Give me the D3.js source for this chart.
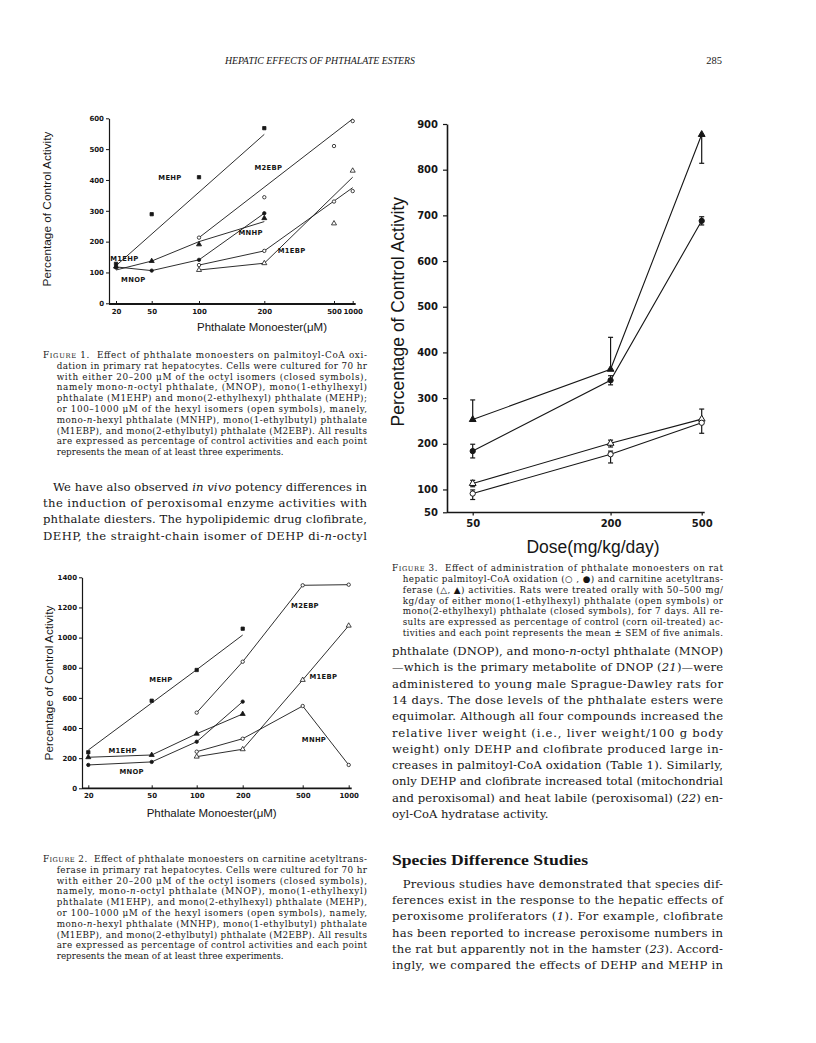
<!DOCTYPE html>
<html><head><meta charset="utf-8">
<script src="https://cdn.jsdelivr.net/npm/d3@7/dist/d3.min.js"></script>
<style>
html,body{margin:0;padding:0;background:#fff;}
svg text{white-space:pre;}
</style></head>
<body><svg id="page" width="816" height="1043" xmlns="http://www.w3.org/2000/svg"></svg>
<script>
// ---------------- DATA ----------------
// Figure 1: palmitoyl-CoA oxidation, % of control
const f1Doses = [20, 50, 100, 200, 500, 1000];
const f1YTicks = [0, 100, 200, 300, 400, 500, 600];
const octylDoses = [20, 50, 100, 200];
const hexylDoses = [100, 200, 500, 1000];
const f1MEHP = [128, 289, 409, 568];
const f1M1EHP = [119, 137, 191, 276];
const f1MNOP = [116, 106, 141, 292];
const f1M2EBP = [213, 344, 510, 591];
const f1MNHP = [124, 170, 330, 364];
const f1M1EBP = [108, 130, 259, 430];
// drawn (fitted) lines of Figure 1
const f1MEHPLineDoses = [20, 200];
const f1MEHPLine = [122, 548];
const f1M1EHPLine = [108, 137, 200, 265];
const f1MNOPLine = [118, 106, 141, 292];
const f1M2EBPLineDoses = [100, 1000];
const f1M2EBPLine = [213, 598];
const f1HexLineDoses = [100, 200, 1000];
const f1MNHPLine = [124, 170, 375];
const f1M1EBPLine = [108, 130, 409];

// Figure 2: carnitine acetyltransferase, % of control
const f2Doses = [20, 50, 100, 200, 500, 1000];
const f2YTicks = [0, 200, 400, 600, 800, 1000, 1200, 1400];
const f2MEHP = [239, 581, 785, 1059];
const f2MEHPLine = [254, 566, 787, 1017];
const f2M1EHP = [206, 221, 362, 493];
const f2MNOP = [155, 175, 309, 575];
const f2M2EBP = [502, 840, 1347, 1351];
const f2MNHP = [243, 329, 546, 155];
const f2M1EBP = [210, 259, 719, 1079];

// Figure 3: in vivo, mean ± SEM
const f3Doses = [50, 200, 500];
const f3YTicks = [50, 100, 200, 300, 400, 500, 600, 700, 800, 900];
const f3CatMEHP = [253, 363, 877];     // closed triangles
const f3CatMEHPUp = [43, 70, 0];
const f3CatMEHPDown = [0, 0, 63];
const f3PcoMEHP = [184, 339, 688];     // closed circles
const f3PcoMEHPUp = [15, 10, 9];
const f3PcoMEHPDown = [15, 10, 9];
const f3CatM1EHP = [113, 201, 254];    // open triangles
const f3CatM1EHPUp = [7, 7, 22];
const f3CatM1EHPDown = [7, 8, 0];
const f3PcoM1EHP = [91, 177, 246];     // open circles
const f3PcoM1EHPUp = [8, 7, 0];
const f3PcoM1EHPDown = [13, 19, 23];

// ---------------- TEXT ----------------
const headerText = "HEPATIC EFFECTS OF PHTHALATE ESTERS";
const pageNumber = "285";
const cap1 = [
 "{FIGURE} 1.  Effect of phthalate monoesters on palmitoyl-CoA oxi-",
 "dation in primary rat hepatocytes. Cells were cultured for 70 hr",
 "with either 20–200 μM of the octyl isomers (closed symbols),",
 "namely mono-*n*-octyl phthalate, (MNOP), mono(1-ethylhexyl)",
 "phthalate (M1EHP) and mono(2-ethylhexyl) phthalate (MEHP);",
 "or 100–1000 μM of the hexyl isomers (open symbols), manely,",
 "mono-*n*-hexyl phthalate (MNHP), mono(1-ethylbutyl) phthalate",
 "(M1EBP), and mono(2-ethylbutyl) phthalate (M2EBP). All results",
 "are expressed as percentage of control activities and each point",
 "represents the mean of at least three experiments."
];
const paraLeft = [
 "We have also observed *in vivo* potency differences in",
 "the induction of peroxisomal enzyme activities with",
 "phthalate diesters. The hypolipidemic drug clofibrate,",
 "DEHP, the straight-chain isomer of DEHP di-*n*-octyl"
];
const cap2 = [
 "{FIGURE} 2.  Effect of phthalate monoesters on carnitine acetyltrans-",
 "ferase in primary rat hepatocytes. Cells were cultured for 70 hr",
 "with either 20–200 μM of the octyl isomers (closed symbols),",
 "namely, mono-*n*-octyl phthalate (MNOP), mono(1-ethylhexyl)",
 "phthalate (M1EHP), and mono(2-ethylhexyl) phthalate (MEHP),",
 "or 100–1000 μM of the hexyl isomers (open symbols), namely,",
 "mono-*n*-hexyl phthalate (MNHP), mono(1-ethylbutyl) phthalate",
 "(M1EBP), and mono(2-ethylbutyl) phthalate (M2EBP). All results",
 "are expressed as percentage of control activities and each point",
 "represents the mean of at least three experiments."
];
const cap3 = [
 "{FIGURE} 3.  Effect of administration of phthalate monoesters on rat",
 "hepatic palmitoyl-CoA oxidation (○ , ●) and carnitine acetyltrans-",
 "ferase (△, ▲) activities. Rats were treated orally with 50–500 mg/",
 "kg/day of either mono(1-ethylhexyl) phthalate (open symbols) or",
 "mono(2-ethylhexyl) phthalate (closed symbols), for 7 days. All re-",
 "sults are expressed as percentage of control (corn oil-treated) ac-",
 "tivities and each point represents the mean ± SEM of five animals."
];
const paraRight1 = [
 "phthalate (DNOP), and mono-*n*-octyl phthalate (MNOP)",
 "—which is the primary metabolite of DNOP (*21*)—were",
 "administered to young male Sprague-Dawley rats for",
 "14 days. The dose levels of the phthalate esters were",
 "equimolar. Although all four compounds increased the",
 "relative liver weight (i.e., liver weight/100 g body",
 "weight) only DEHP and clofibrate produced large in-",
 "creases in palmitoyl-CoA oxidation (Table 1). Similarly,",
 "only DEHP and clofibrate increased total (mitochondrial",
 "and peroxisomal) and heat labile (peroxisomal) (*22*) en-",
 "oyl-CoA hydratase activity."
];
const headingRight = "Species Difference Studies";
const paraRight2 = [
 "Previous studies have demonstrated that species dif-",
 "ferences exist in the response to the hepatic effects of",
 "peroxisome proliferators (*1*). For example, clofibrate",
 "has been reported to increase peroxisome numbers in",
 "the rat but apparently not in the hamster (*23*). Accord-",
 "ingly, we compared the effects of DEHP and MEHP in"
];

// ---------------- DRAWING ----------------
const svg = d3.select('#page');
const INK = '#161616';
const SERIF = "'DejaVu Serif', serif";
const TIMES = "'Liberation Serif', serif";
const SANS = "'Liberation Sans', Arial, sans-serif";
const BOLD = "'DejaVu Sans', sans-serif";
const fmt = d3.format('d');

function richLine(g, str, x, y, size, width, family) {
  const t = g.append('text').attr('x', x).attr('y', y)
    .attr('font-family', family).attr('font-size', size).attr('fill', INK);
  if (width) t.attr('textLength', width).attr('lengthAdjust', 'spacing');
  str.split(/(\*[^*]+\*|\{[^}]+\})/).forEach(p => {
    if (!p) return;
    if (p[0] === '*') t.append('tspan').attr('font-style', 'italic').text(p.slice(1, -1));
    else if (p[0] === '{') {
      const s = p.slice(1, -1);
      t.append('tspan').text(s[0]);
      t.append('tspan').attr('font-size', size * 0.76).text(s.slice(1));
    } else t.append('tspan').text(p);
  });
}
function block(lines, o) {
  const g = svg.append('g');
  lines.forEach((l, i) => {
    const x = i === 0 ? o.x0 : o.x1;
    const last = i === lines.length - 1 && !o.justifyLast;
    richLine(g, l, x, o.y + i * o.lh, o.size, last ? null : (o.right - x), o.family || SERIF);
  });
}

// header
svg.append('text').attr('x', 225).attr('y', 64).attr('font-family', TIMES).attr('font-style', 'italic')
  .attr('font-size', 10.5).attr('fill', INK).attr('textLength', 190).attr('lengthAdjust', 'spacingAndGlyphs').text(headerText);
svg.append('text').attr('x', 722).attr('y', 64).attr('text-anchor', 'end').attr('font-family', TIMES)
  .attr('font-size', 10.5).attr('fill', INK).text(pageNumber);

// captions & paragraphs
block(cap1, {x0: 43, x1: 56.7, right: 367, y: 358, lh: 10.8, size: 8.8});
block(paraLeft, {x0: 53, x1: 43, right: 367, y: 491, lh: 16.2, size: 11.6, justifyLast: true});
block(cap2, {x0: 43, x1: 56.7, right: 367, y: 862, lh: 10.8, size: 8.8});
block(cap3, {x0: 392, x1: 402.7, right: 723, y: 570.8, lh: 10.9, size: 8.8, justifyLast: true});
block(paraRight1, {x0: 392, x1: 392, right: 723, y: 655, lh: 16.3, size: 11.6});
svg.append('text').attr('x', 392).attr('y', 865).attr('font-family', TIMES).attr('font-weight', 'bold')
  .attr('font-size', 15.5).attr('fill', INK).attr('textLength', 196).attr('lengthAdjust', 'spacingAndGlyphs').text(headingRight);
block(paraRight2, {x0: 402.7, x1: 392, right: 723, y: 888, lh: 16.2, size: 11.6, justifyLast: true});

// ---- generic chart for Figs 1 & 2 ----
function drawDoseChart(c) {
  const g = svg.append('g');
  const x = d3.scaleLinear().domain(c.doses).range(c.xRange);
  const y = d3.scaleLinear().domain([0, d3.max(c.yTicks)]).range(c.yRange);
  const ya = g.append('g').attr('transform', `translate(${c.yAxisX},0)`)
    .call(d3.axisLeft(y).tickValues(c.yTicks).tickSize(3).tickSizeOuter(0).tickPadding(2).tickFormat(fmt));
  ya.select('.domain').attr('stroke', INK).attr('stroke-width', 1.2);
  ya.selectAll('.tick line').attr('stroke', INK).attr('stroke-width', 1);
  ya.selectAll('.tick text').attr('font-family', BOLD).attr('font-weight', 'bold').attr('font-size', 7).attr('fill', INK);
  const xa = g.append('g').attr('transform', `translate(0,${c.xAxisY})`)
    .call(d3.axisBottom(x).tickValues(c.doses).tickSize(-3).tickSizeOuter(0).tickPadding(5).tickFormat(fmt));
  xa.select('.domain').remove();
  xa.selectAll('.tick line').attr('stroke', INK).attr('stroke-width', 1);
  xa.selectAll('.tick text').attr('font-family', BOLD).attr('font-weight', 'bold').attr('font-size', 7).attr('fill', INK);
  g.append('line').attr('x1', c.yAxisX).attr('x2', x(d3.max(c.doses)) + 3)
    .attr('y1', c.xAxisY).attr('y2', c.xAxisY).attr('stroke', INK).attr('stroke-width', 1.8);
  // titles
  g.append('text').attr('transform', `translate(${c.yTitle[0]},${c.yTitle[1]}) rotate(-90)`)
    .attr('text-anchor', 'middle').attr('dominant-baseline', 'central')
    .attr('font-family', SANS).attr('font-size', 11.8).attr('fill', INK).text('Percentage of Control Activity');
  g.append('text').attr('x', c.xTitle[0]).attr('y', c.xTitle[1]).attr('text-anchor', 'middle')
    .attr('dominant-baseline', 'central').attr('font-family', SANS).attr('font-size', 11.5)
    .attr('fill', INK).text('Phthalate Monoester(μM)');
  const line = d3.line();
  c.series.forEach(s => {
    const ld = s.lineDoses || s.doses, lv = s.line || s.values;
    g.append('path').attr('d', line(ld.map((d, i) => [x(d), y(lv[i])])))
      .attr('fill', 'none').attr('stroke', INK).attr('stroke-width', 0.9);
  });
  c.series.forEach(s => {
    g.selectAll(null).data(s.doses.map((d, i) => [x(d), y(s.values[i])])).join('path')
      .attr('transform', d => `translate(${d[0]},${d[1]})`)
      .attr('d', d3.symbol(s.symbol, s.symbol === d3.symbolCircle ? 9 : 11)())
      .attr('fill', s.filled ? INK : '#fff').attr('stroke', INK).attr('stroke-width', 0.8);
    g.append('text').attr('x', s.label[0]).attr('y', s.label[1]).attr('text-anchor', 'middle')
      .attr('dominant-baseline', 'central').attr('font-family', BOLD).attr('font-weight', 'bold')
      .attr('font-size', 6.8).attr('letter-spacing', 0.3).attr('fill', INK).text(s.name);
  });
}

drawDoseChart({
  doses: f1Doses, yTicks: f1YTicks,
  xRange: [116, 151.7, 199, 264.3, 334, 352.7], yRange: [303.3, 118.3],
  yAxisX: 109, xAxisY: 304, yTitle: [46.7, 209], xTitle: [262, 326.7],
  series: [
    {name: 'MEHP', doses: octylDoses, values: f1MEHP, lineDoses: f1MEHPLineDoses, line: f1MEHPLine, symbol: d3.symbolSquare, filled: true, label: [170, 178.3]},
    {name: 'M1EHP', doses: octylDoses, values: f1M1EHP, line: f1M1EHPLine, symbol: d3.symbolTriangle, filled: true, label: [124.3, 259.3]},
    {name: 'MNOP', doses: octylDoses, values: f1MNOP, line: f1MNOPLine, symbol: d3.symbolCircle, filled: true, label: [133.3, 280]},
    {name: 'M2EBP', doses: hexylDoses, values: f1M2EBP, lineDoses: f1M2EBPLineDoses, line: f1M2EBPLine, symbol: d3.symbolCircle, filled: false, label: [268.3, 167.7]},
    {name: 'MNHP', doses: hexylDoses, values: f1MNHP, lineDoses: f1HexLineDoses, line: f1MNHPLine, symbol: d3.symbolCircle, filled: false, label: [250.7, 233.3]},
    {name: 'M1EBP', doses: hexylDoses, values: f1M1EBP, lineDoses: f1HexLineDoses, line: f1M1EBPLine, symbol: d3.symbolTriangle, filled: false, label: [291.7, 250.7]}
  ]
});

drawDoseChart({
  doses: f2Doses, yTicks: f2YTicks,
  xRange: [88.3, 151.7, 196.7, 242.7, 302.7, 348.7], yRange: [788.3, 577.3],
  yAxisX: 82, xAxisY: 788.3, yTitle: [49, 683], xTitle: [211.7, 813.3],
  series: [
    {name: 'MEHP', doses: octylDoses, values: f2MEHP, line: f2MEHPLine, symbol: d3.symbolSquare, filled: true, label: [161, 680]},
    {name: 'M1EHP', doses: octylDoses, values: f2M1EHP, symbol: d3.symbolTriangle, filled: true, label: [122.7, 751]},
    {name: 'MNOP', doses: octylDoses, values: f2MNOP, symbol: d3.symbolCircle, filled: true, label: [131.7, 771.7]},
    {name: 'M2EBP', doses: hexylDoses, values: f2M2EBP, symbol: d3.symbolCircle, filled: false, label: [305, 606]},
    {name: 'MNHP', doses: hexylDoses, values: f2MNHP, symbol: d3.symbolCircle, filled: false, label: [314, 740]},
    {name: 'M1EBP', doses: hexylDoses, values: f2M1EBP, symbol: d3.symbolTriangle, filled: false, label: [323.3, 677.3]}
  ]
});

// ---- Figure 3 ----
(function () {
  const g = svg.append('g');
  const x = d3.scaleLog().domain([50, 500]).range([472.7, 701.7]);
  const y = d3.scaleLinear().domain([50, 900]).range([512.3, 124]);
  const ya = g.append('g').attr('transform', 'translate(447,0)')
    .call(d3.axisLeft(y).tickValues(f3YTicks).tickSize(4).tickSizeOuter(0).tickPadding(5).tickFormat(fmt));
  ya.select('.domain').attr('stroke', INK).attr('stroke-width', 1.6);
  ya.selectAll('.tick line').attr('stroke', INK).attr('stroke-width', 1.2);
  ya.selectAll('.tick text').attr('font-family', BOLD).attr('font-weight', 'bold').attr('font-size', 10).attr('fill', INK);
  const xa = g.append('g').attr('transform', 'translate(0,512.5)')
    .call(d3.axisBottom(x).tickValues(f3Doses).tickSize(3).tickSizeOuter(0).tickPadding(4).tickFormat(fmt));
  xa.select('.domain').remove();
  xa.selectAll('.tick line').attr('stroke', INK).attr('stroke-width', 1.2);
  xa.selectAll('.tick text').attr('font-family', BOLD).attr('font-weight', 'bold').attr('font-size', 10).attr('fill', INK);
  g.append('line').attr('x1', 447).attr('x2', x(500) + 3).attr('y1', 512.5).attr('y2', 512.5)
    .attr('stroke', INK).attr('stroke-width', 1.6);
  g.append('text').attr('transform', 'translate(398.3,311.7) rotate(-90)').attr('text-anchor', 'middle')
    .attr('dominant-baseline', 'central').attr('font-family', SANS).attr('font-size', 17.5).attr('fill', INK)
    .text('Percentage of Control Activity');
  g.append('text').attr('x', 593).attr('y', 546.7).attr('text-anchor', 'middle').attr('dominant-baseline', 'central')
    .attr('font-family', SANS).attr('font-size', 17.5).attr('fill', INK).text('Dose(mg/kg/day)');
  const series = [
    {v: f3CatMEHP, up: f3CatMEHPUp, dn: f3CatMEHPDown, sym: d3.symbolTriangle, filled: true},
    {v: f3PcoMEHP, up: f3PcoMEHPUp, dn: f3PcoMEHPDown, sym: d3.symbolCircle, filled: true},
    {v: f3CatM1EHP, up: f3CatM1EHPUp, dn: f3CatM1EHPDown, sym: d3.symbolTriangle, filled: false},
    {v: f3PcoM1EHP, up: f3PcoM1EHPUp, dn: f3PcoM1EHPDown, sym: d3.symbolCircle, filled: false}
  ];
  const line = d3.line();
  series.forEach(s => {
    g.append('path').attr('d', line(f3Doses.map((d, i) => [x(d), y(s.v[i])])))
      .attr('fill', 'none').attr('stroke', INK).attr('stroke-width', 1.1);
    f3Doses.forEach((d, i) => {
      const cx = x(d);
      [[s.up[i], 1], [s.dn[i], -1]].forEach(([e, sg]) => {
        if (!e) return;
        const ye = y(s.v[i] + sg * e);
        g.append('line').attr('x1', cx).attr('x2', cx).attr('y1', y(s.v[i])).attr('y2', ye).attr('stroke', INK).attr('stroke-width', 1.2);
        g.append('line').attr('x1', cx - 2.5).attr('x2', cx + 2.5).attr('y1', ye).attr('y2', ye).attr('stroke', INK).attr('stroke-width', 1.2);
      });
    });
    g.selectAll(null).data(f3Doses.map((d, i) => [x(d), y(s.v[i])])).join('path')
      .attr('transform', d => `translate(${d[0]},${d[1]})`)
      .attr('d', d3.symbol(s.sym, s.sym === d3.symbolCircle ? 22 : 20)())
      .attr('fill', s.filled ? INK : '#fff').attr('stroke', INK).attr('stroke-width', 1);
  });
})();
</script></body></html>
